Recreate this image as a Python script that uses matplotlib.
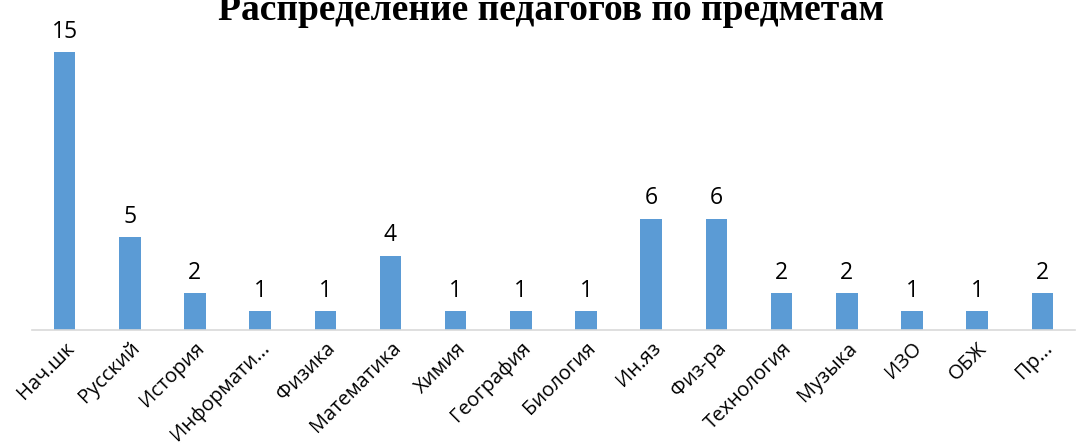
import matplotlib
matplotlib.use("Agg")
import matplotlib.pyplot as plt
import numpy as np

# data
subjects = ["Нач.шк", "Русский", "История", "Информати...", "Физика", "Математика",
            "Химия", "География", "Биология", "Ин.яз", "Физ-ра", "Технология",
            "Музыка", "ИЗО", "ОБЖ", "Пр..."]
teachers = [15, 5, 2, 1, 1, 4, 1, 1, 1, 6, 6, 2, 2, 1, 1, 2]

fig = plt.figure(figsize=(10.8, 4.47), dpi=100)
ax = fig.add_axes([0.0296, 0.262, 0.9657, 0.663])

x = np.arange(len(subjects))
ax.bar(x, teachers, width=0.33, color="#5B9BD5")
ax.set_xlim(-0.5, len(subjects) - 0.5)
ax.set_ylim(0, 16)

# value labels above bars
for xi, v in zip(x, teachers):
    ax.text(xi, v + 0.45, str(v), ha="center", va="bottom",
            fontsize=16.5, family="Open Sans", color="black")

ax.set_xticks(x)
ax.set_xticklabels(subjects, rotation=45, ha="right", rotation_mode="anchor",
                   fontsize=14.5, family="Open Sans")
ax.tick_params(axis="x", length=0, pad=6)
ax.set_yticks([])
for s in ["top", "left", "right"]:
    ax.spines[s].set_visible(False)
ax.spines["bottom"].set_color("#D9D9D9")
ax.spines["bottom"].set_linewidth(1.2)

# title is cropped at the top edge, as in the original
fig.text(0.51, 1 - 20 / 447, "Распределение педагогов по предметам",
         ha="center", va="baseline", fontsize=27, fontweight="bold",
         family="Liberation Serif")

fig.savefig("out.png", dpi=100)
